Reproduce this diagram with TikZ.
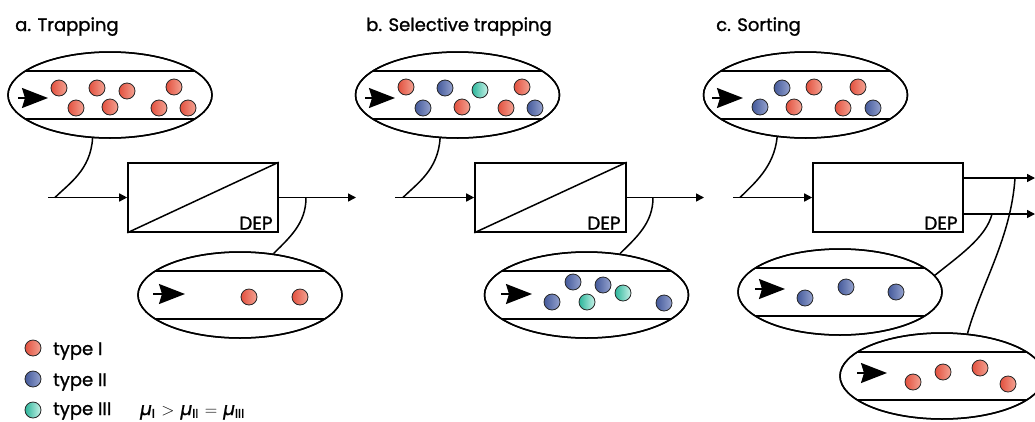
\documentclass[tikz,border=0pt]{standalone}
\usepackage{fontspec}
\setmainfont{Poppins}[UprightFeatures={FakeBold=1.3},ItalicFeatures={FakeBold=1.3}]
\usetikzlibrary{shapes.geometric,arrows.meta}
\definecolor{redA}{HTML}{E2503E}
\definecolor{redB}{HTML}{F4A393}
\definecolor{bluA}{HTML}{44599A}
\definecolor{bluB}{HTML}{95A3CF}
\definecolor{tealA}{HTML}{2BB59A}
\definecolor{tealB}{HTML}{C8F2E8}
\tikzset{
  lead/.style={line width=1.5pt},
  ell/.style={ellipse, draw, line width=1.5pt, minimum width=204pt, minimum height=86pt, inner sep=0pt},
  part/.style={circle, draw=black!85, line width=0.8pt, minimum size=16pt, inner sep=0pt},
  pI/.style={part, left color=redA, right color=redB},
  pII/.style={part, left color=bluA, right color=bluB},
  pIII/.style={part, left color=tealA, right color=tealB},
  flow/.style={line width=1.5pt, -{Stealth[length=26pt,width=20pt,inset=3pt]}},
  conn/.style={line width=1.5pt, -{Triangle[length=8pt,width=8pt]}},
  box/.style={draw, line width=1.6pt, minimum height=69pt, inner sep=0pt},
  title/.style={anchor=base west, font=\fontsize{18}{20}\selectfont, inner sep=0pt},
  dep/.style={anchor=south east, font=\fontsize{18.5}{20}\selectfont, inner xsep=6pt, inner ysep=3pt},
  legtext/.style={anchor=base west, font=\fontsize{18}{20}\selectfont, inner sep=0pt},
}
\newcommand\chanview[3]{%
  \node[ell] (#1) at (#2,#3) {};
  \begin{scope}
    \clip (#1.center) ellipse [x radius=102pt, y radius=43pt];
    \draw[lead] ([shift={(-110pt,24pt)}]#1.center) -- ([shift={(110pt,24pt)}]#1.center);
    \draw[lead] ([shift={(-110pt,-24pt)}]#1.center) -- ([shift={(110pt,-24pt)}]#1.center);
  \end{scope}
  \node[ell] at (#1.center) {};
}
\newcommand\muof[1]{{\itshape µ}\textsubscript{#1}}
\begin{document}
\begin{tikzpicture}[x=1pt,y=-1pt]
\useasboundingbox (0,0) rectangle (1035,421);
% titles
\node[title] (tA) at (15,31) {a. Trapping};
\node[title] (tB) at (366,31) {b. Selective trapping};
\node[title] (tC) at (716,31) {c. Sorting};

% ===== panel a =====
\chanview{eA1}{110}{95}
\draw[flow] (18,98) -- (48,98);
\node[pI] (a1) at (59,88) {};
\node[pI] (a2) at (97,88) {};
\node[pI] (a3) at (127,91) {};
\node[pI] (a4) at (174,87) {};
\node[pI] (a5) at (76,108) {};
\node[pI] (a6) at (110,107) {};
\node[pI] (a7) at (159,108) {};
\node[pI] (a8) at (188,108) {};

\node[box, minimum width=150pt] (bA) at (203,197.5) {};
\draw[lead] (bA.south west) -- (bA.north east);
\node[dep] (dA) at (bA.south east) {DEP};
\coordinate (inA) at (48,197.5);
\coordinate (jA) at (55,197.5);
\coordinate (outA) at (356,197.5);
\coordinate (kA) at (306,197.5);
\draw[conn] (inA) -- (bA.west);
\draw[conn] (bA.east) -- (outA);
\draw[lead] (eA1.248) .. controls +(-2,32) and +(14,-14) .. (jA);

\chanview{eA2}{240}{295}
\draw[flow] (153,294) -- (185,294);
\node[pI] (a9) at (249,297) {};
\node[pI] (a10) at (300,297) {};
\draw[lead] (kA) .. controls +(0,26) and +(16,-16) .. (eA2.51);

% ===== panel b =====
\chanview{eB1}{457.5}{95}
\draw[flow] (365,98) -- (395,98);
\node[pI] (b1) at (406,87) {};
\node[pII] (b2) at (445,88) {};
\node[pIII] (b3) at (480,90) {};
\node[pI] (b4) at (522,87) {};
\node[pII] (b5) at (423,108) {};
\node[pI] (b6) at (462,107) {};
\node[pI] (b7) at (506,108) {};
\node[pII] (b8) at (535,108) {};

\node[box, minimum width=151pt] (bB) at (550.5,197.5) {};
\draw[lead] (bB.south west) -- (bB.north east);
\node[dep] (dB) at (bB.south east) {DEP};
\coordinate (inB) at (395,197.5);
\coordinate (jB) at (403,197.5);
\coordinate (outB) at (704,197.5);
\coordinate (kB) at (653,197.5);
\draw[conn] (inB) -- (bB.west);
\draw[conn] (bB.east) -- (outB);
\draw[lead] (eB1.248) .. controls +(-2,32) and +(14,-14) .. (jB);

\chanview{eB2}{586.5}{295}
\draw[flow] (501,294) -- (532,294);
\node[pII] (b9) at (552,302) {};
\node[pII] (b10) at (573,282) {};
\node[pIII] (b11) at (587,302) {};
\node[pII] (b12) at (603,285) {};
\node[pIII] (b13) at (623,293) {};
\node[pII] (b14) at (664,303) {};
\draw[lead] (kB) .. controls +(0,26) and +(16,-16) .. (eB2.51);

% ===== panel c =====
\chanview{eC1}{805.5}{95}
\draw[flow] (712,98) -- (743,98);
\node[pII] (c1) at (782,88) {};
\node[pI] (c2) at (814,87) {};
\node[pI] (c3) at (858,87) {};
\node[pII] (c4) at (760,107) {};
\node[pI] (c5) at (794,107) {};
\node[pI] (c6) at (843,108) {};
\node[pII] (c7) at (873,108) {};

\node[box, minimum width=150pt] (bC) at (888,197.5) {};
\node[dep] (dC) at (bC.south east) {DEP};
\coordinate (inC) at (733,197.5);
\coordinate (jC) at (740,197.5);
\coordinate (outC1) at (1035,178);
\coordinate (outC2) at (1035,214);
\coordinate (kC1) at (1015,178);
\coordinate (kC2) at (992,214);
\draw[conn] (inC) -- (bC.west);
\draw[conn] (bC.east |- outC1) -- (outC1);
\draw[conn] (bC.east |- outC2) -- (outC2);
\draw[lead] (eC1.236) .. controls +(-3,30) and +(14,-14) .. (jC);

\chanview{eC2}{840}{292}
\draw[flow] (755,289) -- (785,289);
\node[pII] (c8) at (805,298) {};
\node[pII] (c9) at (846,287) {};
\node[pII] (c10) at (896,292) {};
\draw[lead] (kC2) .. controls +(-6,24) and +(22,-18) .. (eC2.10);

\chanview{eC3}{942}{376}
\draw[flow] (857,373) -- (887,373);
\node[pI] (c11) at (913,382) {};
\node[pI] (c12) at (943,372) {};
\node[pI] (c13) at (980,368) {};
\node[pI] (c14) at (1008,384) {};
\draw[lead] (kC1) .. controls +(-4,60) and +(14,-50) .. (eC3.59);

% ===== legend =====
\node[pI] (lI) at (33,348) {};
\node[pII] (lII) at (33,379) {};
\node[pIII] (lIII) at (33,410) {};
\node[legtext] (tI) at (53,355) {type I};
\node[legtext] (tII) at (53,386) {type II};
\node[legtext] (tIII) at (53,415) {type III};
\node[legtext] (mu) at (140,415) {\muof{I}\,\,$>$\,\,\muof{II}\,\,$=$\,\,\muof{III}};
\end{tikzpicture}
\end{document}
